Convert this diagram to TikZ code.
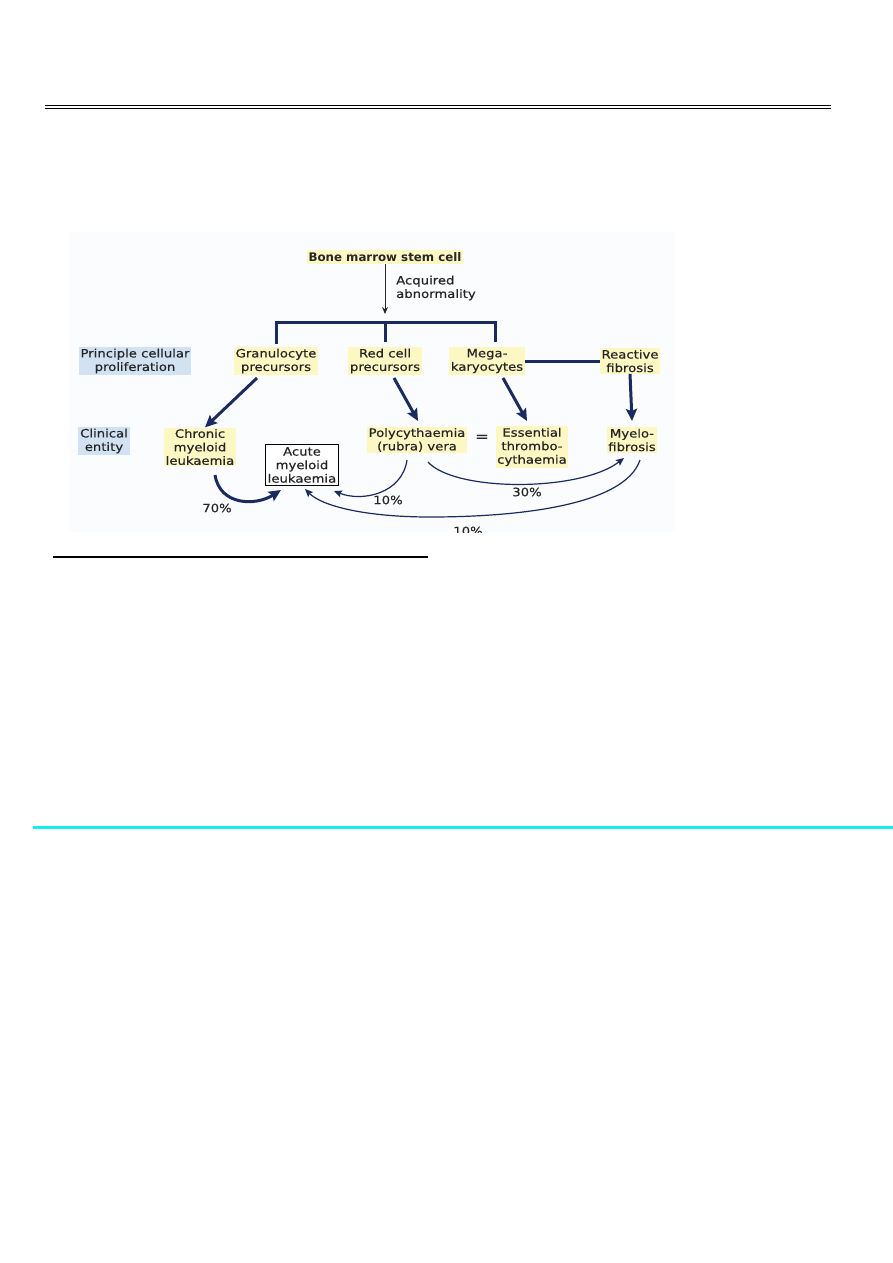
\documentclass[tikz,border=0pt]{standalone}
\usepackage{fontspec}
\setmainfont{DejaVu Sans}[FakeStretch=1.15,FakeBold=0.6]
\newfontfamily\plainfam{DejaVu Sans}
\usetikzlibrary{arrows.meta}
\definecolor{navy}{HTML}{1C2B5E}
\definecolor{txt}{HTML}{262626}
\definecolor{hl}{HTML}{FDF7C4}
\definecolor{bluehl}{HTML}{D2E2F3}
\definecolor{cyanline}{HTML}{12EEF0}
\definecolor{bgpic}{HTML}{FBFCFE}
\tikzset{
  lbl/.style={fill=hl, inner sep=1.5pt, align=center, text=txt, font=\fontsize{11.5}{13.5}\selectfont},
  side/.style={fill=bluehl, inner sep=2pt, align=center, text=txt, font=\fontsize{11.5}{13.5}\selectfont},
  plain/.style={inner sep=1pt, align=center, text=txt, font=\fontsize{11.5}{13.5}\selectfont},
  fat/.style={navy, line width=3pt, -{Stealth[length=12pt,width=11pt,inset=2pt]}},
  slim/.style={navy, line width=1.2pt, -{Stealth[length=8pt,width=7pt,inset=1.5pt]}},
  bracket/.style={navy, line width=3pt}
}
\begin{document}
\begin{tikzpicture}[x=1pt,y=-1pt]
\useasboundingbox (0,0) rectangle (893,1263);
% page rules
\draw[black, line width=1.6pt] (45,105.3) -- (831,105.3);
\draw[black, line width=1pt] (45,108) -- (831,108);
\draw[black, line width=2pt] (53,557) -- (428,557);
\draw[cyanline, line width=3pt] (33,827) -- (893,827);
% picture background
\fill[bgpic] (70,232) rectangle (675,532);

% nodes
\node[lbl, inner sep=2pt, font=\plainfam\bfseries\fontsize{11.8}{13}\selectfont] (bm) at (385,257) {Bone marrow stem cell};
\coordinate (bmtip) at (385,314);
\node[plain, align=left, anchor=west] (acq) at (395,288) {Acquired\\abnormality};

\node[side] (princ) at (135,361) {Principle cellular\\proliferation};
\node[lbl] (gran) at (276,361) {Granulocyte\\precursors};
\node[lbl] (red) at (385,361) {Red cell\\precursors};
\node[lbl] (mega) at (487,361) {Mega-\\karyocytes};
\node[lbl] (reac) at (630,361) {Reactive\\fibrosis};

\node[side] (clin) at (104,441) {Clinical\\entity};
\node[lbl] (cml) at (200,447) {Chronic\\myeloid\\leukaemia};
\node[draw=black, line width=0.8pt, fill=white, inner sep=1.5pt, align=center, text=txt,
      font=\fontsize{11.5}{13.5}\selectfont, minimum width=73pt, minimum height=41pt] (aml) at (302,465) {Acute\\myeloid\\leukaemia};
\node[lbl] (poly) at (417,440) {Polycythaemia\\(rubra) vera};
\node[plain, font=\fontsize{14}{14}\selectfont] (eq) at (482,438) {=};
\node[lbl] (ess) at (532,447) {Essential\\thrombo-\\cythaemia};
\node[lbl] (myelo) at (632,440) {Myelo-\\fibrosis};

% top arrow and bracket
\draw[txt, line width=0.9pt, -{Stealth[length=7pt,width=6pt]}] (bm.south) -- (bmtip);
\coordinate (bl) at (276,322);
\coordinate (br) at (495,322);
\coordinate (bc) at (385,322);
\draw[bracket] (gran.north -| bl) ++(0,-3) -- (bl) -- (br) -- ++(0,20);
\draw[bracket] (bc) -- (385,342);
\draw[bracket] (mega.east) -- (reac.west);

% straight thick arrows
\draw[fat] (257,378) -- ([xshift=5pt]cml.north);
\draw[fat] (394,378) -- (418,421);
\draw[fat] (503,378) -- (527,421);
\draw[fat] (reac.south) -- (632,421);

% curved arrows
\draw[fat] (215,475) .. controls (220,506) and (256,506) .. (281,490);
\node[plain] (p70) at (217,508) {70\%};

\draw[slim] (407,460) .. controls (402,494) and (362,502) .. (334,491);
\node[plain] (p10a) at (388,500) {10\%};

\draw[slim] (428,462) .. controls (455,492) and (580,492) .. (624,458);
\node[plain] (p30) at (527,492) {30\%};

\draw[slim] (640,460) .. controls (625,505) and (520,517) .. (430,517)
      .. controls (365,517) and (322,506) .. (305,489);
\begin{scope}
  \clip (70,232) rectangle (675,532);
  \node[plain] (p10b) at (468,531) {10\%};
\end{scope}
\end{tikzpicture}
\end{document}
